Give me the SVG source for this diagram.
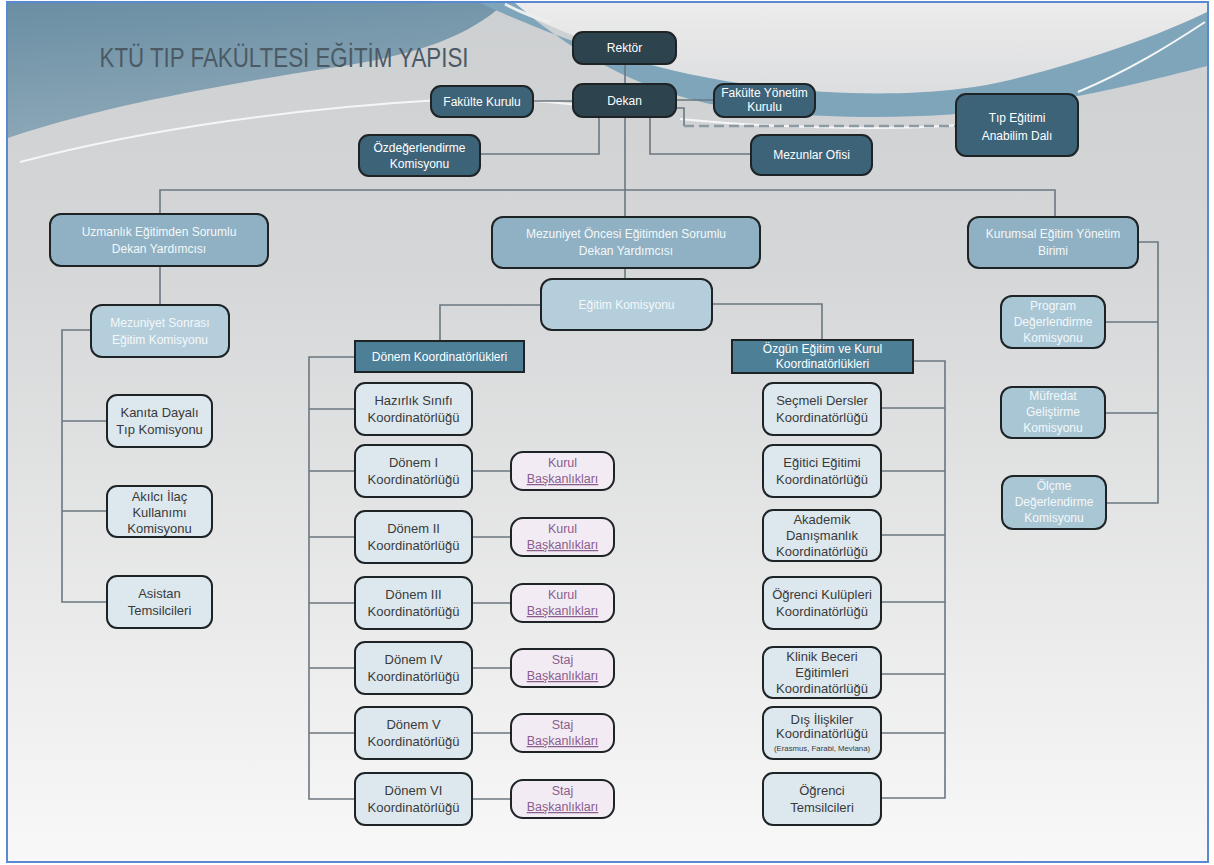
<svg xmlns="http://www.w3.org/2000/svg" width="1214" height="865" viewBox="0 0 1214 865">
<defs>
<linearGradient id="bg" x1="0" y1="0" x2="0" y2="1">
<stop offset="0" stop-color="#cdd0d2"/>
<stop offset="0.3" stop-color="#d5d6d7"/>
<stop offset="1" stop-color="#f8f8f8"/>
</linearGradient>
<linearGradient id="dark" x1="0" y1="0" x2="0.3" y2="1">
<stop offset="0" stop-color="#6a8ea3"/>
<stop offset="1" stop-color="#8ea9b8"/>
</linearGradient>
<linearGradient id="light" x1="0" y1="0" x2="0" y2="1">
<stop offset="0" stop-color="#ececec"/>
<stop offset="1" stop-color="#dcdddf"/>
</linearGradient>
<style>
text{font-family:"Liberation Sans",Arial,sans-serif;text-anchor:middle;}
.c{fill:none;stroke:#6b7780;stroke-width:1.6;}
.dash{fill:none;stroke:#8c9aa2;stroke-width:2.5;stroke-dasharray:10 5;}
.bx{stroke:#1e2326;stroke-width:2;}
.d1{fill:#2d434e;}
.d2{fill:#3d6378;}
.m1{fill:#8fb1c3;}
.m2{fill:#b5cedb;}
.m3{fill:#a9c6d4;}
.lf{fill:#dde8ee;}
.hd{fill:#4d8097;}
.kb{fill:#f3ebf3;}
.tw{fill:#ffffff;font-size:12px;}
.tl{fill:#f4f8fa;font-size:12px;}
.tk{fill:#3a3a3a;font-size:13px;}
.tp{fill:#8a5d8e;font-size:12.5px;}
</style>
</defs>

<g id="background">
<rect x="0" y="0" width="1214" height="865" fill="#ffffff"/>
<rect x="8" y="3" width="1199" height="858" fill="url(#bg)"/>
<path d="M500,3 C580,40 660,75 760,88 C860,100 950,95 1010,80 C1090,60 1160,35 1207,15 V3 Z" fill="url(#light)"/>
<path d="M8,3 H505 C470,35 420,55 330,68 C200,88 90,110 8,138 Z" fill="url(#dark)"/>
<path d="M480,3 C560,40 650,72 760,86 C860,98 950,95 1010,80 C1090,60 1160,35 1207,12 L1207,66 C1160,78 1090,96 1010,108 C940,118 860,120 760,112 C660,102 580,60 515,3 Z" fill="#7fa5bb"/>
<path d="M505,4 C520,12 535,18 550,22" stroke="#eeeeee" stroke-width="3" fill="none"/>
<path d="M20,162 C150,128 300,108 440,100 C500,97 560,102 600,108" stroke="#f6f6f6" stroke-width="2" fill="none"/>
<path d="M680,119 C760,127 880,131 960,125" stroke="#f6f6f6" stroke-width="2" fill="none"/>
<path d="M1078,92 C1130,70 1170,45 1205,22" stroke="#f6f6f6" stroke-width="2" fill="none"/>
<rect x="7" y="2" width="1201" height="860" fill="none" stroke="#5b89cf" stroke-width="2"/>
</g>

<text x="284" y="67" fill="#4b5a64" font-size="27" textLength="369" lengthAdjust="spacingAndGlyphs">KTÜ TIP FAKÜLTESİ EĞİTİM YAPISI</text>

<g id="connectors">
<path class="c" d="M625,64 V217"/>
<path class="c" d="M533,101 H573"/>
<path class="c" d="M676,100 H714"/>
<path class="c" d="M480,154 H599 V117"/>
<path class="c" d="M650,117 V154 H751"/>
<path class="c" d="M676,108 H684 V126"/>
<path class="dash" d="M684,126 H956"/>
<path class="c" d="M160,214 V190 H1055 V217"/>
<path class="c" d="M160,266 V305"/>
<path class="c" d="M91,330 H62 V602 H107 M62,421 H107 M62,511 H107"/>
<path class="c" d="M625,268 V279"/>
<path class="c" d="M541,305 H440 V341"/>
<path class="c" d="M712,304 H822 V340"/>
<path class="c" d="M355,357 H309 V799 H355 M309,409 H355 M309,471 H355 M309,537 H355 M309,603 H355 M309,668 H355 M309,733 H355"/>
<path class="c" d="M472,471 H511 M472,537 H511 M472,603 H511 M472,668 H511 M472,733 H511 M472,799 H511"/>
<path class="c" d="M913,361 H945 V798 H881 M881,408 H945 M881,471 H945 M881,535 H945 M881,602 H945 M881,674 H945 M881,733 H945"/>
<path class="c" d="M1138,242 H1158 V503 H1106 M1105,322 H1158 M1105,413 H1158"/>
</g>

<g id="rektor"><rect class="bx d1" x="573" y="32" width="103" height="32" rx="10"/><text class="tw" x="624.5" y="52">Rektör</text></g>
<g id="dekan"><rect class="bx d1" x="573" y="84" width="103" height="33" rx="10"/><text class="tw" x="624.5" y="105">Dekan</text></g>
<g id="fakulte-kurulu"><rect class="bx d2" x="431" y="86" width="102" height="31" rx="10"/><text class="tw" x="482" y="106">Fakülte Kurulu</text></g>
<g id="ozdegerlendirme"><rect class="bx d2" x="359" y="135" width="121" height="41" rx="10"/><text class="tw" x="419.5" y="152">Özdeğerlendirme</text><text class="tw" x="419.5" y="168">Komisyonu</text></g>
<g id="fakulte-yonetim"><rect class="bx d2" x="714" y="84" width="101" height="33" rx="10"/><text class="tw" x="764.5" y="97" font-size="10.5">Fakülte Yönetim</text><text class="tw" x="764.5" y="111" font-size="10.5">Kurulu</text></g>
<g id="mezunlar-ofisi"><rect class="bx d2" x="751" y="135" width="121" height="40" rx="10"/><text class="tw" x="811.5" y="159">Mezunlar Ofisi</text></g>
<g id="tip-egitimi"><rect class="bx d2" x="956" y="94" width="122" height="62" rx="10"/><text class="tw" x="1017" y="122">Tıp Eğitimi</text><text class="tw" x="1017" y="140">Anabilim Dalı</text></g>

<g id="uzmanlik"><rect class="bx m1" x="50" y="214" width="218" height="52" rx="11"/><text class="tl" x="159" y="236">Uzmanlık Eğitimden Sorumlu</text><text class="tl" x="159" y="253">Dekan Yardımcısı</text></g>
<g id="mezuniyet-oncesi"><rect class="bx m1" x="492" y="217" width="268" height="51" rx="11"/><text class="tl" x="626" y="238">Mezuniyet Öncesi Eğitimden Sorumlu</text><text class="tl" x="626" y="255">Dekan Yardımcısı</text></g>
<g id="kurumsal"><rect class="bx m1" x="968" y="217" width="170" height="51" rx="11"/><text class="tl" x="1053" y="238">Kurumsal Eğitim Yönetim</text><text class="tl" x="1053" y="255">Birimi</text></g>
<g id="egitim-komisyonu"><rect class="bx m2" x="541" y="279" width="171" height="51" rx="11"/><text class="tl" x="626.5" y="309">Eğitim Komisyonu</text></g>
<g id="mezuniyet-sonrasi"><rect class="bx m2" x="91" y="305" width="138" height="52" rx="11"/><text class="tl" x="160" y="327">Mezuniyet Sonrası</text><text class="tl" x="160" y="344">Eğitim Komisyonu</text></g>

<g id="kanita"><rect class="bx lf" x="107" y="395" width="105" height="52" rx="10"/><text class="tk" x="159.5" y="417">Kanıta Dayalı</text><text class="tk" x="159.5" y="434">Tıp Komisyonu</text></g>
<g id="akilci"><rect class="bx lf" x="107" y="486" width="105" height="51" rx="10"/><text class="tk" x="159.5" y="501">Akılcı İlaç</text><text class="tk" x="159.5" y="517">Kullanımı</text><text class="tk" x="159.5" y="533">Komisyonu</text></g>
<g id="asistan"><rect class="bx lf" x="107" y="576" width="105" height="52" rx="10"/><text class="tk" x="159.5" y="598">Asistan</text><text class="tk" x="159.5" y="615">Temsilcileri</text></g>

<g id="donem-header"><rect class="bx hd" x="355" y="341" width="169" height="31"/><text class="tw" x="439.5" y="361">Dönem Koordinatörlükleri</text></g>
<g id="hazirlik"><rect class="bx lf" x="355" y="383" width="117" height="52" rx="10"/><text class="tk" x="413.5" y="405">Hazırlık Sınıfı</text><text class="tk" x="413.5" y="422">Koordinatörlüğü</text></g>
<g id="donem1"><rect class="bx lf" x="355" y="445" width="117" height="52" rx="10"/><text class="tk" x="413.5" y="467">Dönem I</text><text class="tk" x="413.5" y="484">Koordinatörlüğü</text></g>
<g id="donem2"><rect class="bx lf" x="355" y="511" width="117" height="52" rx="10"/><text class="tk" x="413.5" y="533">Dönem II</text><text class="tk" x="413.5" y="550">Koordinatörlüğü</text></g>
<g id="donem3"><rect class="bx lf" x="355" y="577" width="117" height="52" rx="10"/><text class="tk" x="413.5" y="599">Dönem III</text><text class="tk" x="413.5" y="616">Koordinatörlüğü</text></g>
<g id="donem4"><rect class="bx lf" x="355" y="642" width="117" height="52" rx="10"/><text class="tk" x="413.5" y="664">Dönem IV</text><text class="tk" x="413.5" y="681">Koordinatörlüğü</text></g>
<g id="donem5"><rect class="bx lf" x="355" y="707" width="117" height="52" rx="10"/><text class="tk" x="413.5" y="729">Dönem V</text><text class="tk" x="413.5" y="746">Koordinatörlüğü</text></g>
<g id="donem6"><rect class="bx lf" x="355" y="773" width="117" height="52" rx="10"/><text class="tk" x="413.5" y="795">Dönem VI</text><text class="tk" x="413.5" y="812">Koordinatörlüğü</text></g>

<g id="kurul1"><rect class="bx kb" x="511" y="452" width="103" height="38" rx="12"/><text class="tp" x="562.5" y="467">Kurul</text><text class="tp" x="562.5" y="483" text-decoration="underline">Başkanlıkları</text></g>
<g id="kurul2"><rect class="bx kb" x="511" y="518" width="103" height="38" rx="12"/><text class="tp" x="562.5" y="533">Kurul</text><text class="tp" x="562.5" y="549" text-decoration="underline">Başkanlıkları</text></g>
<g id="kurul3"><rect class="bx kb" x="511" y="584" width="103" height="38" rx="12"/><text class="tp" x="562.5" y="599">Kurul</text><text class="tp" x="562.5" y="615" text-decoration="underline">Başkanlıkları</text></g>
<g id="staj4"><rect class="bx kb" x="511" y="649" width="103" height="38" rx="12"/><text class="tp" x="562.5" y="664">Staj</text><text class="tp" x="562.5" y="680" text-decoration="underline">Başkanlıkları</text></g>
<g id="staj5"><rect class="bx kb" x="511" y="714" width="103" height="38" rx="12"/><text class="tp" x="562.5" y="729">Staj</text><text class="tp" x="562.5" y="745" text-decoration="underline">Başkanlıkları</text></g>
<g id="staj6"><rect class="bx kb" x="511" y="780" width="103" height="38" rx="12"/><text class="tp" x="562.5" y="795">Staj</text><text class="tp" x="562.5" y="811" text-decoration="underline">Başkanlıkları</text></g>

<g id="ozgun-header"><rect class="bx hd" x="732" y="340" width="181" height="33"/><text class="tw" x="822.5" y="353" font-size="11.5">Özgün Eğitim ve Kurul</text><text class="tw" x="822.5" y="368" font-size="11.5">Koordinatörlükleri</text></g>
<g id="secmeli"><rect class="bx lf" x="763" y="383" width="118" height="52" rx="10"/><text class="tk" x="822" y="405">Seçmeli Dersler</text><text class="tk" x="822" y="422">Koordinatörlüğü</text></g>
<g id="egitici"><rect class="bx lf" x="763" y="445" width="118" height="52" rx="10"/><text class="tk" x="822" y="467">Eğitici Eğitimi</text><text class="tk" x="822" y="484">Koordinatörlüğü</text></g>
<g id="akademik"><rect class="bx lf" x="763" y="510" width="118" height="51" rx="10"/><text class="tk" x="822" y="524">Akademik</text><text class="tk" x="822" y="540">Danışmanlık</text><text class="tk" x="822" y="556">Koordinatörlüğü</text></g>
<g id="ogrenci-kulupleri"><rect class="bx lf" x="763" y="577" width="118" height="52" rx="10"/><text class="tk" x="822" y="599">Öğrenci Kulüpleri</text><text class="tk" x="822" y="616">Koordinatörlüğü</text></g>
<g id="klinik"><rect class="bx lf" x="763" y="647" width="118" height="51" rx="10"/><text class="tk" x="822" y="661">Klinik Beceri</text><text class="tk" x="822" y="677">Eğitimleri</text><text class="tk" x="822" y="693">Koordinatörlüğü</text></g>
<g id="dis-iliskiler"><rect class="bx lf" x="763" y="707" width="118" height="52" rx="10"/><text class="tk" x="822" y="724" font-size="10.5">Dış İlişkiler</text><text class="tk" x="822" y="738" font-size="10.5">Koordinatörlüğü</text><text class="tk" transform="translate(822,751) scale(0.6)" x="0" y="0" font-size="11">(Erasmus, Farabi, Mevlana)</text></g>
<g id="ogrenci-temsilcileri"><rect class="bx lf" x="763" y="773" width="118" height="52" rx="10"/><text class="tk" x="822" y="795">Öğrenci</text><text class="tk" x="822" y="812">Temsilcileri</text></g>

<g id="program"><rect class="bx m3" x="1001" y="296" width="104" height="52" rx="11"/><text class="tl" x="1053" y="310">Program</text><text class="tl" x="1053" y="326">Değerlendirme</text><text class="tl" x="1053" y="342">Komisyonu</text></g>
<g id="mufredat"><rect class="bx m3" x="1001" y="387" width="104" height="51" rx="11"/><text class="tl" x="1053" y="400">Müfredat</text><text class="tl" x="1053" y="416">Geliştirme</text><text class="tl" x="1053" y="432">Komisyonu</text></g>
<g id="olcme"><rect class="bx m3" x="1002" y="476" width="104" height="53" rx="11"/><text class="tl" x="1054" y="490">Ölçme</text><text class="tl" x="1054" y="506">Değerlendirme</text><text class="tl" x="1054" y="522">Komisyonu</text></g>
</svg>
